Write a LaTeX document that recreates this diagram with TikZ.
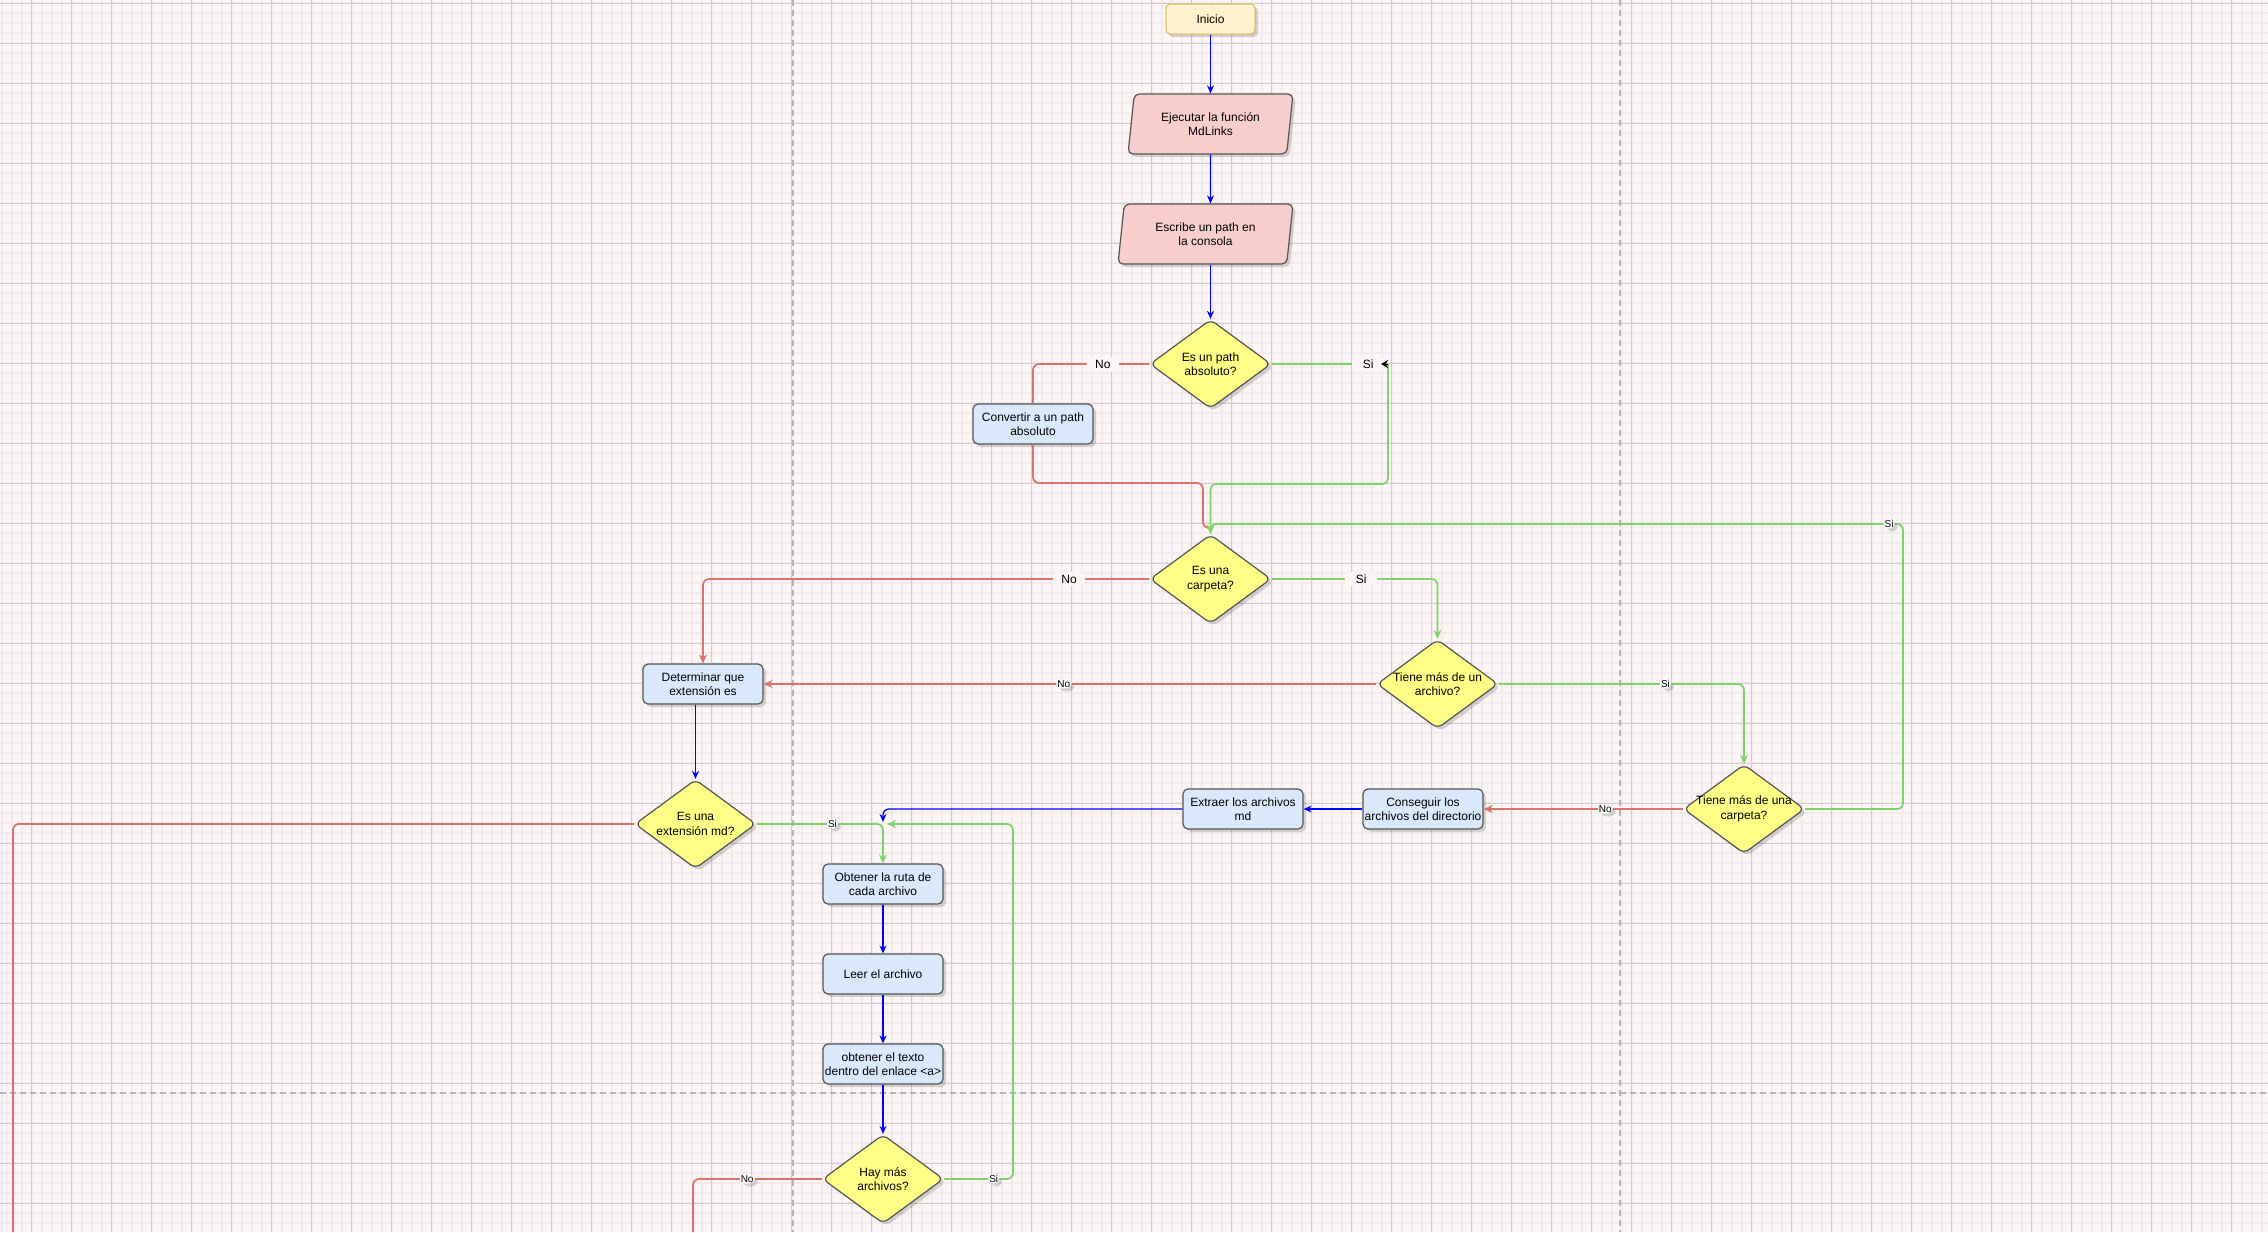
\documentclass[tikz,border=0pt]{standalone}
\usepackage{fontspec}
\setmainfont{Liberation Sans}
\usetikzlibrary{arrows.meta,shapes.geometric,shadows}

\definecolor{papel}{HTML}{FBF5F5}
\definecolor{rejfina}{HTML}{F3EBEB}
\definecolor{rejgruesa}{HTML}{D2CBCB}
\definecolor{corte}{HTML}{B8B3B3}
\definecolor{azul}{HTML}{0000FF}
\definecolor{rojo}{HTML}{D9736C}
\definecolor{verde}{HTML}{7ED46A}
\definecolor{borde}{HTML}{555555}
\definecolor{amarillo}{HTML}{FFFF88}
\definecolor{celeste}{HTML}{DAE8FC}
\definecolor{rosa}{HTML}{F8CECC}
\definecolor{crema}{HTML}{FFF2CC}
\definecolor{dorado}{HTML}{D6B656}

\tikzset{
  sombra/.style={drop shadow={shadow xshift=3pt,shadow yshift=-3pt,fill=black,opacity=.15}},
  inicio/.style={rectangle,rounded corners=4pt,draw=dorado,fill=crema,line width=1pt,
    minimum width=89pt,minimum height=30pt,sombra},
  entrada/.style={trapezium,trapezium left angle=76,trapezium right angle=104,
    trapezium stretches body,rounded corners=5pt,draw=borde,fill=rosa,line width=1.2pt,
    minimum height=60pt,inner sep=1pt,align=center,sombra},
  proceso/.style={rectangle,rounded corners=5pt,draw=borde,fill=celeste,line width=1.2pt,
    minimum width=120pt,minimum height=40pt,inner sep=1pt,align=center,sombra},
  decision/.style={diamond,aspect=1.38,rounded corners=6pt,draw=borde,fill=amarillo,
    line width=1.2pt,minimum width=121pt,minimum height=89pt,inner sep=-8pt,align=center,sombra},
  flujo/.style={azul,line width=1.3pt,rounded corners=6pt,-{Stealth[length=8pt,width=7pt]}},
  sino/.style={rojo,line width=1.7pt,rounded corners=6pt},
  sisi/.style={verde,line width=1.7pt,rounded corners=6pt},
  etq/.style={fill=papel,inner sep=0pt,minimum width=32pt,minimum height=14pt,text=black},
  etqchica/.style={fill=white,inner sep=1pt,font=\fontsize{10}{11}\selectfont,text=black,sombra}
}

\begin{document}
\begin{tikzpicture}[x=1pt,y=-1pt,font=\fontsize{12}{14.4}\selectfont,
  >={Stealth[length=9pt,width=8pt]}]
 \useasboundingbox (0,0) rectangle (2268,1232);
 % hoja cuadriculada
 \fill[papel] (0,0) rectangle (2268,1232);
 \foreach \gx in {1.7,11.7,...,2268}
    \draw[rejfina,line width=2pt] (\gx,0) -- (\gx,1232);
 \foreach \gy in {3.3,13.3,...,1232}
    \draw[rejfina,line width=2pt] (0,\gy) -- (2268,\gy);
 \foreach \gx in {31.7,71.7,...,2268}
    \draw[rejgruesa,line width=1pt] (\gx,0) -- (\gx,1232);
 \foreach \gy in {3.3,43.3,...,1232}
    \draw[rejgruesa,line width=1pt] (0,\gy) -- (2268,\gy);
 % saltos de pagina
 \draw[corte,line width=2pt,dash pattern=on 6pt off 4pt]
    (793,0) -- (793,1232) (1620,0) -- (1620,1232) (0,1093) -- (2268,1093);

 % nodos
 \node[inicio] (inicio) at (1210.5,19) {Inicio};
 \node[entrada,minimum width=165pt] (ejecutar) at (1210.5,124)
   {Ejecutar la función\\MdLinks};
 \node[entrada,minimum width=175pt] (escribe) at (1205.5,234)
   {Escribe un path en\\la consola};
 \node[decision] (absoluto) at (1210.5,364) {Es un path\\absoluto?};
 \node[proceso] (convertir) at (1033,424) {Convertir a un path\\absoluto};
 \node[decision] (carpeta) at (1210.5,579) {Es una\\carpeta?};
 \node[decision] (unarchivo) at (1437.5,684) {Tiene más de un\\archivo?};
 \node[proceso] (determinar) at (703,684) {Determinar que\\extensión es};
 \node[decision] (unacarpeta) at (1744,809) {Tiene más de una\\carpeta?};
 \node[proceso] (conseguir) at (1423,809) {Conseguir los\\archivos del directorio};
 \node[proceso] (extraer) at (1243,809) {Extraer los archivos\\md};
 \node[decision] (extension) at (695.5,824) {Es una\\extensión md?};
 \node[proceso] (ruta) at (883,884) {Obtener la ruta de\\cada archivo};
 \node[proceso] (leer) at (883,974) {Leer el archivo};
 \node[proceso] (texto) at (883,1064) {obtener el texto\\dentro del enlace <a>};
 \node[decision] (hay) at (883,1179) {Hay más\\archivos?};

 \coordinate (siA) at (1388,364);
 \coordinate (finazul) at (883,822);
 \coordinate (finverde) at (887,824);

 % flujo principal
 \draw[flujo] (inicio) -- (ejecutar);
 \draw[flujo] (ejecutar) -- (escribe.north -| ejecutar);
 \draw[flujo] (escribe.south -| absoluto) -- (absoluto);
 \draw[flujo] (conseguir) -- (extraer);
 \draw[flujo] (extraer.west) -| (finazul);
 \draw[flujo] (determinar.south -| extension) -- (extension);
 \draw[flujo] (ruta) -- (leer);
 \draw[flujo] (leer) -- (texto);
 \draw[flujo] (texto) -- (hay);

 % ramas No
 \draw[sino] (absoluto.west) -| node[etq,pos=.2]{No} (convertir.north);
 \draw[sino] (convertir.south) |- (1203,483) |- (1210.5,528);
 \draw[sino,->] (carpeta.west) -| node[etq,pos=.09]{No} (determinar.north);
 \draw[sino,->] (unarchivo.west) -- node[etqchica,pos=.51]{No} (determinar.east);
 \draw[sino,->] (unacarpeta.west) -- node[etqchica,pos=.39]{No} (conseguir.east);
 \draw[sino] (extension.west) -| (13,1232);
 \draw[sino] (hay.west) -| node[etqchica,pos=.29]{No} (693,1232);

 % ramas Si
 \draw[sisi] (absoluto.east) -- node[etq,pos=.83]{Si} (siA);
 \draw[sisi,->] (siA) -- (1388,484) -| (carpeta.north);
 \draw[black,line width=1pt,-{Stealth[length=7pt,width=8pt]}] (siA) -- ++(-7,0);
 \draw[sisi,->] (carpeta.east) -| node[etq,pos=.27]{Si} (unarchivo.north);
 \draw[sisi,->] (unarchivo.east) -| node[etqchica,pos=.34]{Si} (unacarpeta.north);
 \draw[sisi,->] (unacarpeta.east) -| (1903,524) -| node[etqchica,pos=.01]{Si} (carpeta.north);
 \draw[sisi,->] (extension.east) -| node[etqchica,pos=.3]{Si} (ruta.north);
 \draw[sisi,->] (hay.east) -| node[etqchica,pos=.36]{Si} (1013,824) -- (finverde);
\end{tikzpicture}
\end{document}
